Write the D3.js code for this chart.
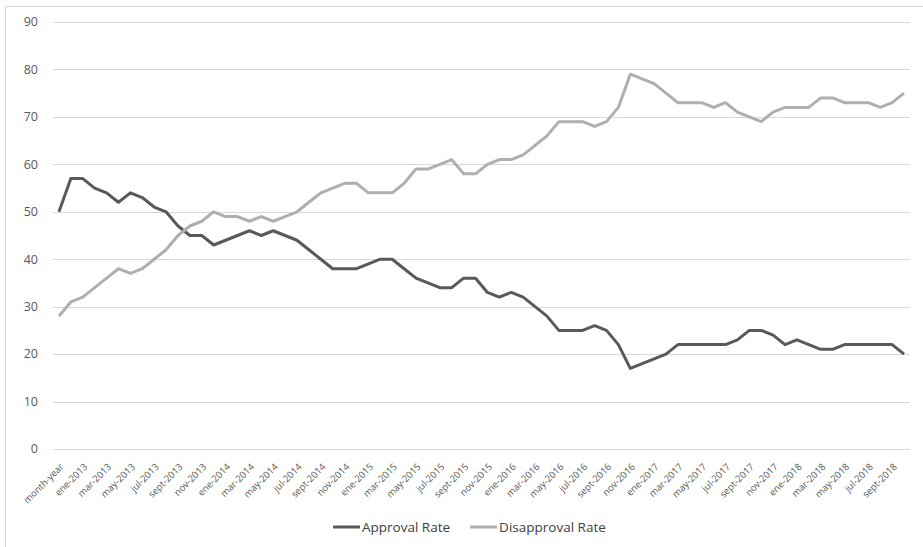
<!DOCTYPE html>
<html>
<head>
<meta charset="utf-8">
<script src="https://cdn.jsdelivr.net/npm/d3@7"></script>
<style>
  body { margin: 0; background: #fff; }
  svg { display: block; font-family: "Open Sans", sans-serif; }
</style>
</head>
<body>
<svg id="chart" width="923" height="547"></svg>
<script>
// categories as they appear in the sheet (first one is the header cell)
const months = [
  "month-year", "dic-2012",
  "ene-2013", "feb-2013", "mar-2013", "abr-2013", "may-2013", "jun-2013", "jul-2013", "ago-2013", "sept-2013", "oct-2013", "nov-2013", "dic-2013",
  "ene-2014", "feb-2014", "mar-2014", "abr-2014", "may-2014", "jun-2014", "jul-2014", "ago-2014", "sept-2014", "oct-2014", "nov-2014", "dic-2014",
  "ene-2015", "feb-2015", "mar-2015", "abr-2015", "may-2015", "jun-2015", "jul-2015", "ago-2015", "sept-2015", "oct-2015", "nov-2015", "dic-2015",
  "ene-2016", "feb-2016", "mar-2016", "abr-2016", "may-2016", "jun-2016", "jul-2016", "ago-2016", "sept-2016", "oct-2016", "nov-2016", "dic-2016",
  "ene-2017", "feb-2017", "mar-2017", "abr-2017", "may-2017", "jun-2017", "jul-2017", "ago-2017", "sept-2017", "oct-2017", "nov-2017", "dic-2017",
  "ene-2018", "feb-2018", "mar-2018", "abr-2018", "may-2018", "jun-2018", "jul-2018", "ago-2018", "sept-2018", "oct-2018"
];

const approval = [
  50, 57, 57, 55, 54, 52, 54, 53, 51, 50,
  47, 45, 45, 43, 44, 45, 46, 45, 46, 45,
  44, 42, 40, 38, 38, 38, 39, 40, 40, 38,
  36, 35, 34, 34, 36, 36, 33, 32, 33, 32,
  30, 28, 25, 25, 25, 26, 25, 22, 17, 18,
  19, 20, 22, 22, 22, 22, 22, 23, 25, 25,
  24, 22, 23, 22, 21, 21, 22, 22, 22, 22,
  22, 20
];

const disapproval = [
  28, 31, 32, 34, 36, 38, 37, 38, 40, 42,
  45, 47, 48, 50, 49, 49, 48, 49, 48, 49,
  50, 52, 54, 55, 56, 56, 54, 54, 54, 56,
  59, 59, 60, 61, 58, 58, 60, 61, 61, 62,
  64, 66, 69, 69, 69, 68, 69, 72, 79, 78,
  77, 75, 73, 73, 73, 72, 73, 71, 70, 69,
  71, 72, 72, 72, 74, 74, 73, 73, 73, 72,
  73, 75
];

const yTicks = [0, 10, 20, 30, 40, 50, 60, 70, 80, 90];

const series = [
  { name: "Approval Rate", values: approval, color: "#595959" },
  { name: "Disapproval Rate", values: disapproval, color: "#afafaf" }
];

const svg = d3.select("#chart");

// light frame (only top / left visible in the crop)
svg.append("path")
  .attr("d", "M5.5,547V6.5H923")
  .attr("fill", "none")
  .attr("stroke", "#d9d9d9");

const plotLeft = 53, plotRight = 910, plotTop = 22, plotBottom = 449;

const x = d3.scaleBand().domain(months).range([plotLeft, plotRight]);
const cx = d => x(d) + x.bandwidth() / 2;
const y = d3.scaleLinear().domain([0, 90]).range([plotBottom, plotTop]);

// gridlines
svg.append("g")
  .selectAll("line")
  .data(yTicks)
  .join("line")
  .attr("x1", plotLeft)
  .attr("x2", plotRight)
  .attr("y1", d => Math.round(y(d)) + 0.5)
  .attr("y2", d => Math.round(y(d)) + 0.5)
  .attr("stroke", "#d9d9d9")
  .attr("stroke-width", 1);

// y labels
svg.append("g")
  .selectAll("text")
  .data(yTicks)
  .join("text")
  .attr("x", 38)
  .attr("y", d => y(d))
  .attr("dy", "0.35em")
  .attr("text-anchor", "end")
  .attr("fill", "#595959")
  .style("font-size", "12.5px")
  .text(d => d);

// x labels, every other category
svg.append("g")
  .selectAll("text")
  .data(months.filter((d, i) => i % 2 === 0))
  .join("text")
  .attr("transform", d => `translate(${cx(d) + 3},465) rotate(-45)`)
  .attr("dy", "0.35em")
  .attr("text-anchor", "end")
  .attr("fill", "#595959")
  .style("font-size", "9.5px")
  .text(d => d);

// lines
const line = d3.line()
  .x((d, i) => cx(months[i]))
  .y(d => y(d));

svg.append("g")
  .selectAll("path")
  .data(series)
  .join("path")
  .attr("d", d => line(d.values))
  .attr("fill", "none")
  .attr("stroke", d => d.color)
  .attr("stroke-width", 3)
  .attr("stroke-linejoin", "round");

// legend
const legend = svg.append("g").attr("transform", "translate(0,527)");
let lx = 333;
series.forEach(s => {
  legend.append("line")
    .attr("x1", lx).attr("x2", lx + 27)
    .attr("y1", 0).attr("y2", 0)
    .attr("stroke", s.color)
    .attr("stroke-width", 3);
  const t = legend.append("text")
    .attr("x", lx + 29)
    .attr("dy", "0.35em")
    .attr("fill", "#404040")
    .style("font-size", "13.5px")
    .text(s.name);
  lx += 29 + t.node().getComputedTextLength() + 20;
});
</script>
</body>
</html>
